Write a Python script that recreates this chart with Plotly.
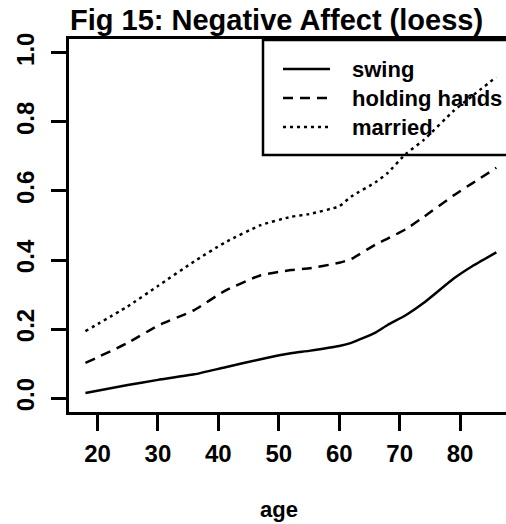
import plotly.graph_objects as go

# ---- data ----
age = [18, 25, 30, 36, 41, 47, 52, 55, 60, 62, 66, 68, 71, 74, 79, 82, 86]
swing = [0.015, 0.038, 0.053, 0.069, 0.089, 0.113, 0.130, 0.137, 0.151, 0.160,
         0.190, 0.212, 0.240, 0.276, 0.347, 0.382, 0.422]
holding_hands = [0.102, 0.160, 0.210, 0.255, 0.310, 0.356, 0.371, 0.376, 0.392, 0.403,
                 0.445, 0.462, 0.489, 0.525, 0.588, 0.622, 0.667]
married = [0.194, 0.266, 0.325, 0.396, 0.450, 0.501, 0.525, 0.533, 0.556, 0.584,
           0.625, 0.652, 0.707, 0.748, 0.833, 0.875, 0.930]
series_names = ["swing", "holding hands", "married"]
x_ticks = [20, 30, 40, 50, 60, 70, 80]
y_ticks = [0.0, 0.2, 0.4, 0.6, 0.8, 1.0]
title_text = "Fig 15: Negative Affect (loess)"
x_label = "age"

# ---- layout constants ----
W, H = 506, 524
L, R, T, B = 69, 0, 39, 112
PW, PH = W - L - R, H - T - B
FONT = "Liberation Sans, Arial, sans-serif"
dashes = ["solid", "10px,7px", "3px,4px"]
LW = 2.5


def px(xp):
    return (xp - L) / PW


def py(yp):
    return (H - B - yp) / PH


fig = go.Figure()
for name, vals, dash in zip(series_names, [swing, holding_hands, married], dashes):
    fig.add_trace(go.Scatter(x=age, y=vals, mode="lines", name=name,
                             line=dict(color="black", width=LW, dash=dash, shape="spline", smoothing=0.5),
                             showlegend=False))

shapes = []
# legend box
shapes.append(dict(type="rect", xref="paper", yref="paper",
                   x0=px(263), x1=px(520), y0=py(155), y1=py(40),
                   line=dict(color="black", width=LW), fillcolor="white", layer="below"))
annotations = []
rows = [69, 98, 127]
for name, dash, yr in zip(series_names, dashes, rows):
    shapes.append(dict(type="line", xref="paper", yref="paper",
                       x0=px(283), x1=px(330), y0=py(yr), y1=py(yr),
                       line=dict(color="black", width=LW, dash=dash)))
    annotations.append(dict(text=name, xref="paper", yref="paper", x=px(350), y=py(yr),
                            xanchor="left", yanchor="middle", showarrow=False,
                            font=dict(family=FONT, size=22, color="black", weight="bold")))

annotations.append(dict(text=title_text, xref="paper", yref="paper", x=px(276), y=py(20),
                        xanchor="center", yanchor="middle", showarrow=False,
                        font=dict(family=FONT, size=29, color="black", weight="bold")))
annotations.append(dict(text=x_label, xref="paper", yref="paper", x=px(279), y=py(509),
                        xanchor="center", yanchor="middle", showarrow=False,
                        font=dict(family=FONT, size=22, color="black", weight="bold")))

fig.update_layout(
    width=W, height=H,
    margin=dict(l=L, r=R, t=T, b=B, pad=0),
    plot_bgcolor="white", paper_bgcolor="white",
    shapes=shapes, annotations=annotations,
    xaxis=dict(range=[15.28, 87.6], tickvals=x_ticks, ticks="outside", ticklen=16,
               tickwidth=LW, tickcolor="black", showline=True, linecolor="black",
               linewidth=LW, mirror=True, showgrid=False, zeroline=False,
               ticklabelstandoff=2,
               tickfont=dict(family=FONT, size=24, color="black", weight="bold")),
    yaxis=dict(range=[-0.04, 1.04], tickvals=y_ticks, tickformat=".1f", ticks="outside",
               ticklen=15, tickwidth=LW, tickcolor="black", showline=True,
               linecolor="black", linewidth=LW, mirror=False, showgrid=False,
               zeroline=False, tickangle=-90, ticklabelstandoff=8,
               tickfont=dict(family=FONT, size=24, color="black", weight="bold")),
)

fig.write_html("out.html", config={"displayModeBar": False},
               post_script="document.body.style.margin='0';document.body.style.overflow='hidden';")
